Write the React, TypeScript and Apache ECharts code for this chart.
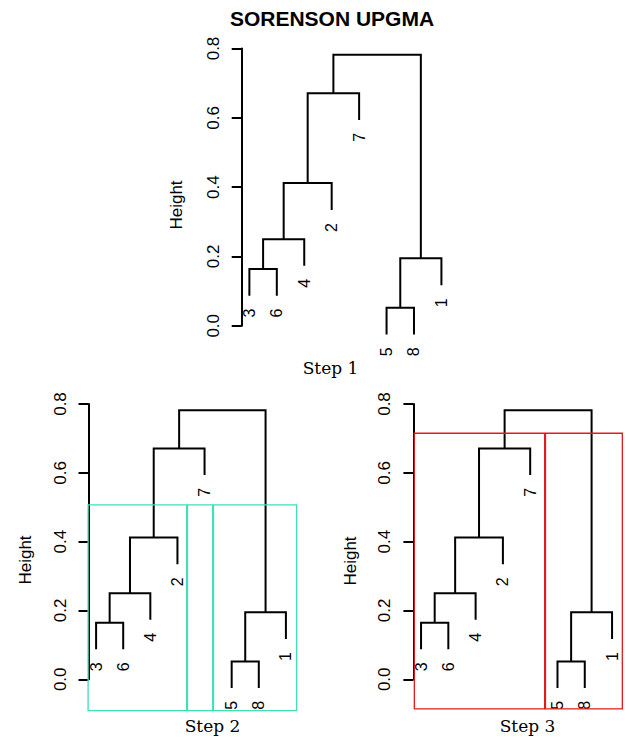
import React, { useEffect, useRef } from "react";
import * as echarts from "echarts";

// leaf order along the x axis (positions 1..8)
const leafLabels = ["3", "6", "4", "2", "7", "5", "8", "1"];
// height where each leaf's line ends (R hang)
const leafTips = [0.087, 0.087, 0.173, 0.334, 0.594, -0.025, -0.025, 0.117];
// merge table (R style): negative = leaf position, positive = earlier merge
const mergeLeft = [-1, -6, 1, 3, 2, 4, 6];
const mergeRight = [-2, -7, -3, -4, -8, -5, 5];
const mergeHeights = [0.164, 0.052, 0.25, 0.412, 0.195, 0.671, 0.782];

const yTicks = [0, 0.2, 0.4, 0.6, 0.8];

// cluster boxes [x1, y1, x2, y2]
const step2Boxes = [
  [0.705, -0.091, 4.34, 0.507],
  [4.37, -0.091, 5.3, 0.507],
  [5.33, -0.091, 8.395, 0.507],
];
const step3Boxes = [
  [0.754, -0.086, 5.53, 0.715],
  [5.56, -0.086, 8.376, 0.715],
];

function buildLinks() {
  const mx: number[] = [];
  const pos = (c: number) => (c < 0 ? -c : mx[c - 1]);
  const hgt = (c: number) => (c < 0 ? leafTips[-c - 1] : mergeHeights[c - 1]);
  const links: number[][] = [];
  for (let i = 0; i < mergeHeights.length; i++) {
    const l = mergeLeft[i];
    const r = mergeRight[i];
    const xl = pos(l);
    const xr = pos(r);
    mx.push((xl + xr) / 2);
    links.push([xl, hgt(l), xr, hgt(r), mergeHeights[i]]);
  }
  return links;
}

const grids = [
  { left: 241.7, top: 48.5, width: 207.4, height: 277.3 },
  { left: 88.5, top: 404, width: 205, height: 275.3 },
  { left: 413.4, top: 404, width: 206.3, height: 275.3 },
];

export default function App() {
  const ref = useRef<HTMLDivElement>(null);
  useEffect(() => {
    if (!ref.current) return;
    const chart = echarts.init(ref.current, null, { renderer: "svg" });
    const links = buildLinks();
    const leafData = leafTips.map((t, i) => [i + 1, t]);

    const series: any[] = [];
    grids.forEach((_, gi) => {
      series.push({
        type: "custom",
        xAxisIndex: gi,
        yAxisIndex: gi,
        clip: false,
        data: links,
        renderItem: (params: any, api: any) => {
          const p1 = api.coord([api.value(0), api.value(1)]);
          const p2 = api.coord([api.value(0), api.value(4)]);
          const p3 = api.coord([api.value(2), api.value(4)]);
          const p4 = api.coord([api.value(2), api.value(3)]);
          return {
            type: "polyline",
            shape: { points: [p1, p2, p3, p4] },
            style: { stroke: "#000", lineWidth: 2, fill: "none" },
          };
        },
      });
      series.push({
        type: "custom",
        xAxisIndex: gi,
        yAxisIndex: gi,
        clip: false,
        data: leafData,
        renderItem: (params: any, api: any) => {
          const p = api.coord([api.value(0), api.value(1)]);
          return {
            type: "text",
            x: p[0],
            y: p[1] + 13,
            rotation: Math.PI / 2,
            style: {
              text: leafLabels[params.dataIndex],
              align: "right",
              verticalAlign: "middle",
              fontSize: 16,
              fontFamily: "Liberation Sans",
              fill: "#000",
            },
          };
        },
      });
    });
    const boxSeries = (gi: number, boxes: number[][], color: string) => ({
      type: "custom",
      xAxisIndex: gi,
      yAxisIndex: gi,
      clip: false,
      z: 5,
      data: boxes,
      renderItem: (params: any, api: any) => {
        const a = api.coord([api.value(0), api.value(3)]);
        const b = api.coord([api.value(2), api.value(1)]);
        return {
          type: "rect",
          shape: { x: a[0], y: a[1], width: b[0] - a[0], height: b[1] - a[1] },
          style: { stroke: color, lineWidth: 1.3, fill: "none" },
        };
      },
    });
    series.push(boxSeries(1, step2Boxes, "#40dfb8"));
    series.push(boxSeries(2, step3Boxes, "#e41a1c"));

    const sansText = (x: number, y: number, text: string) => ({
      type: "text",
      x,
      y,
      rotation: Math.PI / 2,
      style: {
        text,
        align: "center",
        verticalAlign: "middle",
        fontSize: 17,
        fontFamily: "Liberation Sans",
        fill: "#000",
      },
    });
    const stepText = (x: number, y: number, text: string) => ({
      type: "text",
      x,
      y,
      style: {
        text,
        align: "center",
        verticalAlign: "middle",
        fontSize: 17,
        fontFamily: "DejaVu Serif",
        fill: "#000",
      },
    });

    chart.setOption({
      animation: false,
      backgroundColor: "#fff",
      grid: grids.map((g) => ({ ...g, containLabel: false })),
      xAxis: grids.map((_, gi) => ({
        type: "value",
        gridIndex: gi,
        min: 0.72,
        max: 8.28,
        show: false,
      })),
      yAxis: grids.map((_, gi) => ({
        type: "value",
        gridIndex: gi,
        min: yTicks[0],
        max: yTicks[yTicks.length - 1],
        interval: 0.2,
        axisLine: { show: true, lineStyle: { color: "#000", width: 2 } },
        axisTick: { show: true, length: 10, lineStyle: { color: "#000", width: 2 } },
        splitLine: { show: false },
        axisLabel: {
          rotate: 90,
          margin: 20,
          fontSize: 17,
          fontFamily: "Liberation Sans",
          color: "#000",
          formatter: (v: number) => v.toFixed(1),
        },
      })),
      series,
      graphic: [
        {
          type: "text",
          x: 332,
          y: 18,
          style: {
            text: "SORENSON UPGMA",
            align: "center",
            verticalAlign: "middle",
            fontSize: 21,
            fontWeight: "bold",
            fontFamily: "Liberation Sans",
            fill: "#000",
          },
        },
        sansText(176.5, 205, "Height"),
        sansText(25.8, 560, "Height"),
        sansText(350, 561, "Height"),
        stepText(330.5, 368, "Step 1"),
        stepText(212.5, 726, "Step 2"),
        stepText(527.5, 726, "Step 3"),
      ],
    });
    return () => chart.dispose();
  }, []);
  return (
    <div
      ref={ref}
      style={{ position: "fixed", left: 0, top: 0, width: 626, height: 738 }}
    />
  );
}
